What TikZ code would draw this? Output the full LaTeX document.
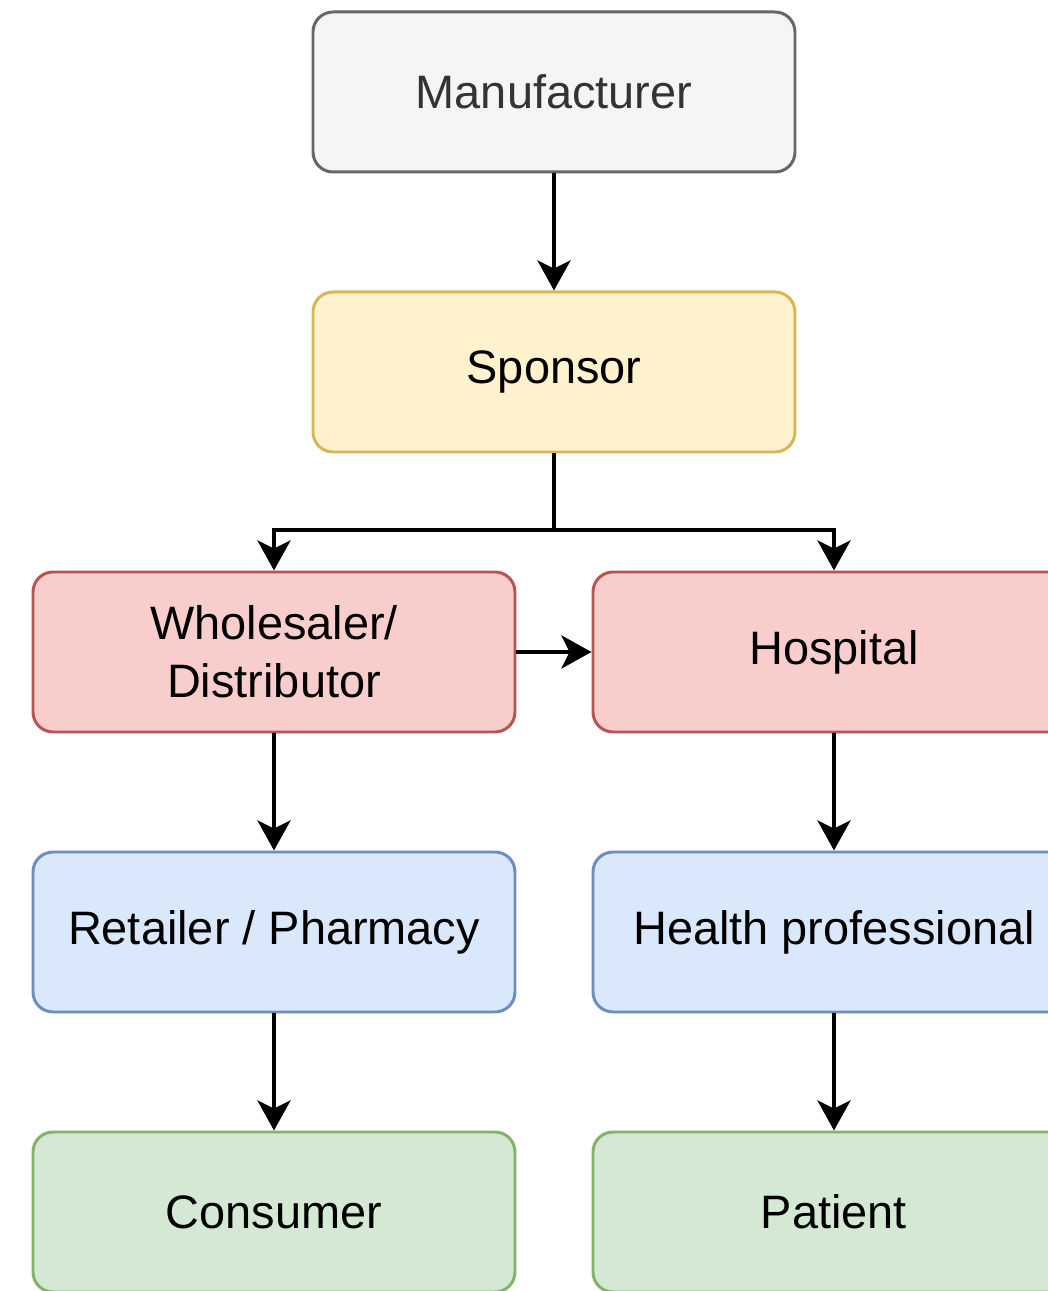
\documentclass[tikz,border=0pt]{standalone}
\usepackage{fontspec}
\setmainfont{Liberation Sans}
\usetikzlibrary{arrows.meta}

\begin{document}
\begin{tikzpicture}[
    flowbox/.style={shape=rectangle,draw,rounded corners=0.4cm,line width=1.7pt,minimum width=9.64cm,minimum height=3.2cm,align=center,font=\fontsize{26.7}{33}\selectfont},
    flowarrow/.style={line width=2.3pt,-{Stealth[length=0.6cm,width=0.66cm,inset=0.16cm]}}
]
\definecolor{mfr_fill}{HTML}{F5F5F5}
\definecolor{mfr_line}{HTML}{666666}
\definecolor{mfr_text}{HTML}{333333}
\definecolor{spo_fill}{HTML}{FFF2CC}
\definecolor{spo_line}{HTML}{D6B656}
\definecolor{mid_fill}{HTML}{F8CECC}
\definecolor{mid_line}{HTML}{B85450}
\definecolor{pro_fill}{HTML}{DAE8FC}
\definecolor{pro_line}{HTML}{6C8EBF}
\definecolor{end_fill}{HTML}{D5E8D4}
\definecolor{end_line}{HTML}{82B366}

\useasboundingbox (0,0) rectangle (20.96,25.82);
\clip (0,0) rectangle (20.96,25.82);

\node[flowbox,draw=mfr_line,fill=mfr_fill,text=mfr_text] (manufacturer) at (11.08,23.98) {Manufacturer};
\node[flowbox,draw=spo_line,fill=spo_fill] (sponsor) at (11.08,18.38) {Sponsor};

\node[flowbox,draw=mid_line,fill=mid_fill] (wholesaler) at (5.48,12.78) {Wholesaler/\\Distributor};
\node[flowbox,draw=mid_line,fill=mid_fill] (hospital) at (16.68,12.78) {Hospital};

\node[flowbox,draw=pro_line,fill=pro_fill] (retailer) at (5.48,7.18) {Retailer / Pharmacy};
\node[flowbox,draw=pro_line,fill=pro_fill] (healthpro) at (16.68,7.18) {Health professional};

\node[flowbox,draw=end_line,fill=end_fill] (consumer) at (5.48,1.58) {Consumer};
\node[flowbox,draw=end_line,fill=end_fill] (patient) at (16.68,1.58) {Patient};

% split below the sponsor
\coordinate (split) at (11.08,15.22);

\draw[flowarrow] (manufacturer) to (sponsor);
\draw[line width=2.3pt] (sponsor) to (split);
\draw[flowarrow] (split) -| (wholesaler);
\draw[flowarrow] (split) -| (hospital);
\draw[flowarrow] (wholesaler) to (hospital);

\draw[flowarrow] (wholesaler) to (retailer);
\draw[flowarrow] (hospital) to (healthpro);
\draw[flowarrow] (retailer) to (consumer);
\draw[flowarrow] (healthpro) to (patient);
\end{tikzpicture}
\end{document}
